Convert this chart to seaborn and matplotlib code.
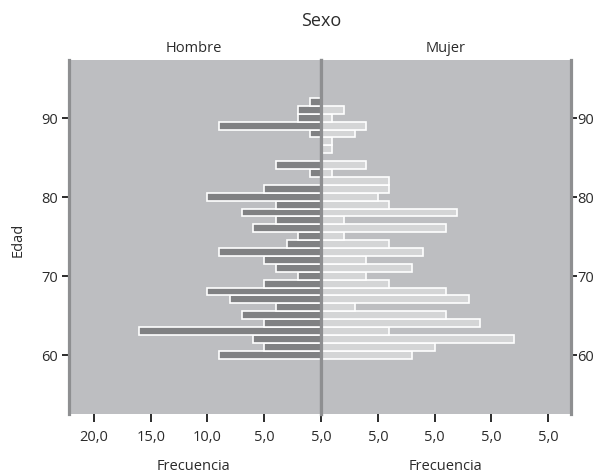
# Pirámide de edad por sexo
import pandas as pd
import matplotlib
matplotlib.use('Agg')
import matplotlib.pyplot as plt
import seaborn as sns

# Datos (edad 60..92)
edades = list(range(60, 93))
hombres = [9, 5, 6, 16, 5, 7, 4, 8, 10, 5, 2, 4, 5, 9, 3, 2, 6,
           4, 7, 4, 10, 5, 0, 1, 4, 0, 0, 0, 1, 9, 2, 2, 1]
mujeres = [8, 10, 17, 6, 14, 11, 3, 13, 11, 6, 4, 8, 4, 9, 6, 2, 11,
           2, 12, 6, 5, 6, 6, 1, 4, 0, 1, 1, 3, 4, 1, 2, 0]

ticks_hombre = [20, 15, 10, 5, 0]
etiquetas_hombre = ["20,0", "15,0", "10,0", "5,0", "5,0"]
ticks_mujer = [5, 10, 15, 20]
etiquetas_mujer = ["5,0", "5,0", "5,0", "5,0"]
ticks_edad = [60, 70, 80, 90]

# Tablas sin las edades de frecuencia cero
df_h = pd.DataFrame({'Edad': edades, 'Frecuencia': hombres})
df_h = df_h[df_h['Frecuencia'] > 0]
df_m = pd.DataFrame({'Edad': edades, 'Frecuencia': mujeres})
df_m = df_m[df_m['Frecuencia'] > 0]

sns.set_style("white")
plt.rcParams['font.family'] = ['Open Sans', 'DejaVu Sans']

fondo = '#bdbec1'
borde = '#8e8f91'
texto = '#2b2b2b'

fig = plt.figure(figsize=(5.94, 4.77), dpi=100)
W, H = 594, 477
ax1 = fig.add_axes([69 / W, 1 - 415 / H, (321 - 69) / W, (415 - 61) / H])
ax2 = fig.add_axes([321 / W, 1 - 415 / H, (571 - 321) / W, (415 - 61) / H])

sns.barplot(data=df_h, x='Frecuencia', y='Edad', orient='h', native_scale=True,
            color='#808183', saturation=1, edgecolor='white', linewidth=1.2,
            width=1.0, errorbar=None, ax=ax1)
sns.barplot(data=df_m, x='Frecuencia', y='Edad', orient='h', native_scale=True,
            color='#d4d5d6', saturation=1, edgecolor='white', linewidth=1.2,
            width=1.0, errorbar=None, ax=ax2)

for ax in (ax1, ax2):
    ax.set_facecolor(fondo)
    ax.set_ylim(52.5, 97.3)
    ax.set_yticks(ticks_edad)
    ax.set_xlabel('')
    ax.set_ylabel('')
    for s in ax.spines.values():
        s.set_visible(False)
    ax.tick_params(axis='both', direction='out', length=6, width=1.4,
                   color=texto, labelcolor=texto, labelsize=10.5)
    ax.tick_params(axis='x', pad=5, bottom=True)

ax1.set_xlim(22.2, 0)
ax1.set_xticks(ticks_hombre)
ax1.set_xticklabels(etiquetas_hombre)
ax1.tick_params(axis='y', left=True, right=False, length=5, pad=3)

ax2.set_xlim(0, 22.0)
ax2.set_xticks(ticks_mujer)
ax2.set_xticklabels(etiquetas_mujer)
ax2.yaxis.tick_right()
ax2.tick_params(axis='y', left=False, right=True, labelleft=False,
                labelright=True, length=4, pad=0.5)

# Bordes laterales y línea central
for s in (ax1.spines['left'], ax1.spines['right'],
          ax2.spines['left'], ax2.spines['right']):
    s.set_visible(True)
    s.set_color(borde)
    s.set_linewidth(2.3)
    s.set_zorder(5)

# Textos
fig.text(321 / W, 1 - 21 / H, 'Sexo', ha='center', va='center', fontsize=13, color=texto)
fig.text(194 / W, 1 - 49 / H, 'Hombre', ha='center', va='center', fontsize=10.5, color=texto)
fig.text(446 / W, 1 - 49 / H, 'Mujer', ha='center', va='center', fontsize=10.5, color=texto)
fig.text(194 / W, 1 - 467 / H, 'Frecuencia', ha='center', va='center', fontsize=10.5, color=texto)
fig.text(446 / W, 1 - 467 / H, 'Frecuencia', ha='center', va='center', fontsize=10.5, color=texto)
fig.text(18 / W, 1 - 240 / H, 'Edad', ha='center', va='center', rotation=90,
         fontsize=10.5, color=texto)

fig.savefig('out.png', dpi=100, facecolor='white')
